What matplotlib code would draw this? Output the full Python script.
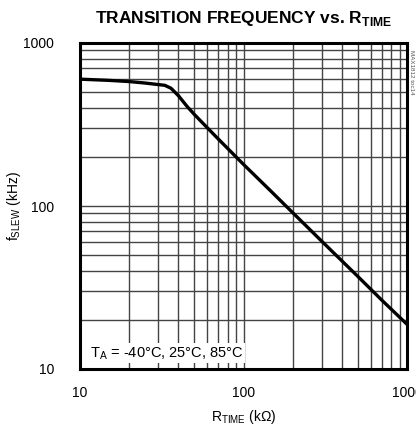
import matplotlib
matplotlib.use("Agg")
import matplotlib.pyplot as plt
from matplotlib.ticker import LogLocator, NullFormatter, FixedLocator, FixedFormatter

# values
r_time = [10, 15, 20, 25, 30, 33, 36, 40, 45, 50, 54, 70, 100, 150, 200, 300, 500, 700, 1000]
f_slew = [600, 590, 580, 568, 556, 550, 528, 475, 410, 365, 337, 258, 180, 121, 91, 61, 37, 26.5, 18.8]

x_ticks = [10, 100, 1000]
x_tick_labels = ["10", "100", "1000"]
y_ticks = [10, 100, 1000]
y_tick_labels = ["10", "100", "1000"]

plt.rcParams["font.family"] = ["Liberation Sans", "DejaVu Sans"]
plt.rcParams["mathtext.fontset"] = "custom"
plt.rcParams["mathtext.rm"] = "Liberation Sans"

fig = plt.figure(figsize=(4.16, 4.29), dpi=100)
ax = fig.add_axes([80 / 416, 1 - 369 / 429, 327 / 416, 326 / 429])

ax.set_xscale("log")
ax.set_yscale("log")
ax.set_xlim(10, 1000)
ax.set_ylim(10, 1000)

# grid at every 1..9 per decade
ax.xaxis.set_minor_locator(LogLocator(base=10, subs=range(1, 10)))
ax.yaxis.set_minor_locator(LogLocator(base=10, subs=range(1, 10)))
ax.xaxis.set_minor_formatter(NullFormatter())
ax.yaxis.set_minor_formatter(NullFormatter())
ax.grid(True, which="both", color="#444444", linewidth=1.0)
ax.set_axisbelow(True)

ax.xaxis.set_major_locator(FixedLocator(x_ticks))
ax.xaxis.set_major_formatter(FixedFormatter(x_tick_labels))
ax.yaxis.set_major_locator(FixedLocator(y_ticks))
ax.yaxis.set_major_formatter(FixedFormatter(y_tick_labels))
ax.tick_params(which="both", length=0, labelsize=10)
ax.tick_params(axis="x", pad=12)
ax.tick_params(axis="y", pad=18.5)

for s in ax.spines.values():
    s.set_linewidth(2.2)
    s.set_color("black")

ax.plot(r_time, f_slew, color="black", linewidth=2.4, solid_capstyle="butt")

ax.text(11.5, 12.5, r"T$_\mathregular{A}$ = -40°C, 25°C, 85°C", fontsize=10.5,
        ha="left", va="center",
        bbox=dict(facecolor="white", edgecolor="none", pad=1.0))

ax.set_xlabel(r"R$_\mathregular{TIME}$ (k$\Omega$)", fontsize=10, labelpad=6)
ax.set_ylabel(r"f$_\mathregular{SLEW}$ (kHz)", fontsize=10)
ax.yaxis.set_label_coords(-0.174, 0.5)

fig.text(244 / 416, 1 - 18 / 429, r"TRANSITION FREQUENCY vs. R$_\mathregular{TIME}$",
         fontsize=12.5, fontweight="bold", ha="center", va="center")

fig.text(411 / 416, 1 - 72 / 429, "MAX1812 toc14", fontsize=4.5, color="#555555",
         rotation=270, ha="center", va="center")

plt.savefig("out.png", dpi=100)
